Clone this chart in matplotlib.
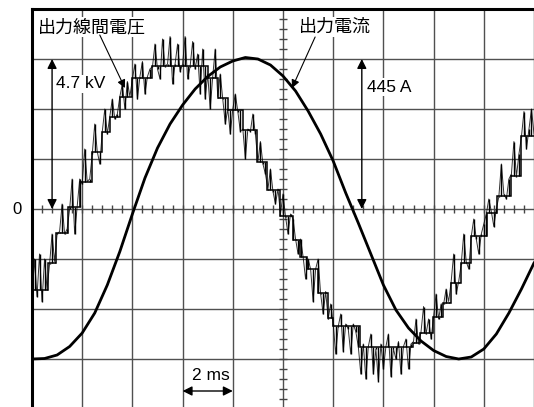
import matplotlib.pyplot as plt
import numpy as np

# Oscilloscope capture: line-to-line output voltage and output current.
# Units are screen divisions: 2 ms/div horizontally, 4.7 kV or 445 A per 3 div vertically.

# staircase levels of the voltage (level i holds from step_t[i] to step_t[i+1])
step_t = [0.0, 0.32, 0.48, 0.72, 0.96, 1.2, 1.4, 1.55, 1.75, 2.0, 2.4, 3.5, 3.7,
          3.9, 4.2, 4.48, 4.68, 4.94, 5.2, 5.34, 5.48, 5.7, 5.9, 6.0, 6.53, 7.59,
          7.73, 7.99, 8.19, 8.35, 8.55, 8.75, 9.06, 9.26, 9.54, 9.74, 10.0]
step_v = [-1.62, -1.08, -0.48, 0.04, 0.54, 1.14, 1.54, 1.84, 2.24, 2.62, 2.86, 2.62,
          2.22, 1.98, 1.58, 0.94, 0.38, -0.14, -0.62, -0.96, -1.2, -1.68, -2.18,
          -2.34, -2.76, -2.68, -2.48, -2.16, -1.88, -1.48, -1.08, -0.54, -0.08,
          0.26, 0.66, 1.46]

# sampled voltage incl. switching spikes, one sample every 0.05 div
v_line = [
    -1.85, -1.0, -1.75, -0.9, -1.85, -1.0, -1.6, -1.1, -0.5, -1.05,
    -0.5, -0.45, 0.1, -0.5, -0.4, 0.0, 0.6, -0.5, 0.05, 0.6,
    0.5, 1.2, 0.55, 0.6, 1.1, 1.7, 1.15, 0.9, 1.55, 2.0,
    1.5, 1.85, 2.2, 1.8, 1.9, 2.25, 2.5, 2.0, 2.55, 2.25,
    2.6, 2.9, 2.2, 2.65, 2.95, 2.3, 2.65, 2.8, 2.85, 3.3,
    2.8, 2.6, 3.4, 2.85, 2.9, 3.45, 2.5, 2.9, 3.3, 2.75,
    2.9, 3.45, 2.6, 2.85, 3.35, 2.8, 3.1, 2.3, 3.2, 2.2,
    2.7, 2.0, 2.65, 3.2, 2.25, 2.7, 2.2, 1.7, 2.0, 1.5,
    2.0, 2.3, 1.95, 1.55, 1.6, 1.0, 1.6, 1.55, 1.9, 1.5,
    0.95, 1.35, 0.9, 0.7, 0.4, 0.8, 0.35, 0.1, 0.4, -0.1,
    0.3, -0.15, -0.5, -0.1, -0.2, -0.6, -0.9, -0.6, -0.95, -1.4,
    -1.0, -1.2, -1.85, -1.2, -1.0, -1.7, -2.1, -1.65, -2.2, -1.9,
    -2.3, -2.9, -2.35, -2.1, -2.85, -2.3, -2.4, -2.9, -2.3, -2.45,
    -2.75, -3.3, -2.7, -3.4, -2.75, -2.5, -3.3, -2.8, -3.45, -2.7,
    -3.2, -2.75, -2.5, -3.35, -2.8, -3.0, -2.65, -3.3, -2.75, -2.6,
    -3.2, -2.7, -2.65, -2.2, -2.7, -2.45, -1.95, -2.5, -2.2, -2.6,
    -2.15, -1.7, -2.2, -1.9, -1.9, -1.6, -1.85, -1.45, -0.9, -1.7,
    -1.45, -1.1, -0.5, -1.05, -1.2, -0.55, -0.2, -0.6, -0.9, -0.5,
    -0.3, -0.1, 0.2, -0.05, -0.35, 0.0, 0.25, 0.9, 0.3, 0.2,
    0.6, 0.7, 1.35, 0.65, 1.1, 1.45, 1.95, 1.2, 1.6, 2.0, 1.5,
]

# current trace, one sample every 0.25 div
i_line = [
    -3.00, -2.99, -2.92, -2.75, -2.48, -2.08, -1.52, -0.85, -0.10, 0.62,
    1.22, 1.70, 2.08, 2.40, 2.65, 2.84, 2.96, 3.03, 3.00, 2.88,
    2.66, 2.36, 1.96, 1.50, 0.96, 0.32, -0.28, -0.90, -1.52, -2.02,
    -2.38, -2.64, -2.83, -2.95, -3.00, -2.96, -2.80, -2.50, -2.08, -1.60,
    -1.08,
]

t_v = np.linspace(0, 10, len(v_line))
t_i = np.linspace(0, 10, len(i_line))
level = np.clip(np.searchsorted(step_t, t_v, side='right') - 1, 0, len(step_v) - 1)
v_base = np.array(step_v)[level]

plt.rcParams['font.family'] = ['Liberation Sans', 'Noto Sans CJK JP']
JP = ['Noto Sans CJK JP', 'DejaVu Sans']

fig = plt.figure(figsize=(5.34, 4.07), dpi=100)
ax = fig.add_axes([32 / 534, -2 / 407, 502 / 534, 400 / 407])
ax.set_xlim(0, 10)
ax.set_ylim(-4, 4)

# graticule
ax.set_xticks(range(11))
ax.set_yticks(range(-4, 5))
ax.grid(True, color='#505050', lw=1.0, zorder=1)
ax.tick_params(length=0, labelbottom=False, labelleft=False)
for side in ['right', 'bottom']:
    ax.spines[side].set_visible(False)
for side in ['left', 'top']:
    ax.spines[side].set_linewidth(2.2)
    ax.spines[side].set_color('black')

# small ticks along the centre lines
minor = np.arange(0.2, 10, 0.2)
ax.plot(minor, np.zeros_like(minor), ls='none', marker='|', ms=6, mew=1.0,
        color='#444444', zorder=2)
minor_y = np.arange(-3.8, 4, 0.2)
ax.plot(np.full_like(minor_y, 5), minor_y, ls='none', marker='_', ms=6, mew=1.0,
        color='#444444', zorder=2)

# traces
ax.plot(t_i, i_line, color='black', lw=2.0, zorder=5)
ax.stairs(step_v, step_t, baseline=None, color='black', lw=1.1, zorder=5)
ax.vlines(t_v, v_base, v_line, color='black', lw=1.0, zorder=5)
ax.plot(t_v, v_line, color='black', lw=0.7, alpha=0.8, zorder=5)

box = dict(facecolor='white', edgecolor='none', pad=1.0)
ax.text(0.12, 3.64, '出力線間電圧', family=JP, fontsize=13, ha='left', va='center',
        bbox=box, zorder=4)
ax.text(5.32, 3.64, '出力電流', family=JP, fontsize=13, ha='left', va='center',
        bbox=box, zorder=4)
ax.text(0.48, 2.5, '4.7 kV', fontsize=12.5, ha='left', va='center', bbox=box, zorder=4)
ax.text(6.67, 2.44, '445 A', fontsize=12.5, ha='left', va='center', bbox=box, zorder=4)
ax.text(3.57, -3.32, '2 ms', fontsize=12.5, ha='center', va='center', zorder=4)
ax.text(-0.2, 0, '0', fontsize=12, ha='right', va='center', clip_on=False)

# pointers to the two traces
pointer = dict(arrowstyle='-|>', lw=0.8, color='black', mutation_scale=12,
               shrinkA=0, shrinkB=0)
ax.annotate('', xy=(1.85, 2.42), xytext=(1.35, 3.48), arrowprops=pointer, zorder=6)
ax.annotate('', xy=(5.18, 2.42), xytext=(5.64, 3.44), arrowprops=pointer, zorder=6)

# amplitude and time scale arrows
span = dict(arrowstyle='<|-|>', lw=1.0, color='black', mutation_scale=14,
            shrinkA=0, shrinkB=0)
ax.annotate('', xy=(0.4, 3.0), xytext=(0.4, 0.0), arrowprops=span, zorder=6)
ax.annotate('', xy=(6.57, 3.0), xytext=(6.57, 0.0), arrowprops=span, zorder=6)
ax.annotate('', xy=(3.0, -3.64), xytext=(4.0, -3.64), arrowprops=span, zorder=6)

fig.savefig('out.png', dpi=100)
